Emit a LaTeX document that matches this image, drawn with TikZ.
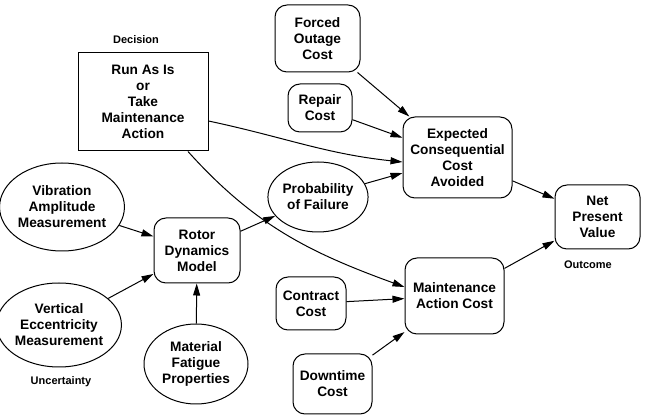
\documentclass[tikz,border=0pt]{standalone}
\usepackage{fontspec}
\setmainfont{Liberation Sans}
\usetikzlibrary{arrows.meta,shapes.geometric}
\begin{document}
\begin{tikzpicture}[x=1pt,y=1pt,
  every node/.style={font=\bfseries\fontsize{13.7}{16}\selectfont, align=center, inner sep=0pt},
  rbox/.style={draw, rounded corners=12pt, line width=1pt},
  sbox/.style={draw, line width=1pt},
  ell/.style={draw, ellipse, line width=1pt},
  lbl/.style={font=\bfseries\fontsize{11}{13}\selectfont},
  arr/.style={line width=1pt, -{Triangle[length=12pt,width=7pt]}}
]
\useasboundingbox (0,0) rectangle (646,415);
% nodes
\node[sbox, minimum width=130pt, minimum height=98pt] (dec) at (143,313) {Run As Is\\or\\Take\\Maintenance\\Action};
\node[rbox, minimum width=85pt, minimum height=67pt] (foc) at (317.5,376.5) {Forced\\Outage\\Cost};
\node[rbox, minimum width=64pt, minimum height=48pt] (rep) at (320,307) {Repair\\Cost};
\node[rbox, minimum width=109pt, minimum height=81pt] (ecc) at (457.5,257.5) {Expected\\Consequential\\Cost\\Avoided};
\node[ell, minimum width=90pt, minimum height=70pt] (pf) at (318,218) {Probability\\of Failure};
\node[rbox, minimum width=85pt, minimum height=64pt] (npv) at (597.5,198) {Net\\Present\\Value};
\node[rbox, minimum width=99pt, minimum height=76pt] (mac) at (454.5,119) {Maintenance\\Action Cost};
\node[rbox, minimum width=70pt, minimum height=53pt] (con) at (311,111.5) {Contract\\Cost};
\node[rbox, minimum width=79pt, minimum height=60pt] (dtc) at (332.5,31) {Downtime\\Cost};
\node[rbox, minimum width=86pt, minimum height=65pt] (rdm) at (197,164.5) {Rotor\\Dynamics\\Model};
\node[ell, minimum width=120pt, minimum height=88pt] (vam) at (62,208) {Vibration\\Amplitude\\Measurement};
\node[ell, minimum width=112pt, minimum height=84pt] (vem) at (59,90) {Vertical\\Eccentricity\\Measurement};
\node[ell, minimum width=104pt, minimum height=80pt] (mfp) at (196,51) {Material\\Fatigue\\Properties};
% labels
\node[lbl] (ldec) at (136,375) {Decision};
\node[lbl] (lout) at (588,150) {Outcome};
\node[lbl] (lunc) at (61,33) {Uncertainty};
% connectors
\draw[arr] (foc) -- (ecc);
\draw[arr] (rep) -- (ecc);
\draw[arr] (pf) -- (ecc);
\draw[arr] ([yshift=-19pt]dec.east) to[out=-12,in=174] ([yshift=-4.5pt]ecc.west);
\draw[arr] ([xshift=45pt]dec.south) to[out=-48,in=160] ([yshift=9pt]mac.west);
\draw[arr] (rdm) -- (pf);
\draw[arr] (vam) -- (rdm);
\draw[arr] (vem) -- (rdm);
\draw[arr] (mfp) -- (rdm);
\draw[arr] (ecc) -- (npv);
\draw[arr] (mac) -- (npv);
\draw[arr] (con) -- (mac);
\draw[arr] (dtc) -- (mac);
\end{tikzpicture}
\end{document}
